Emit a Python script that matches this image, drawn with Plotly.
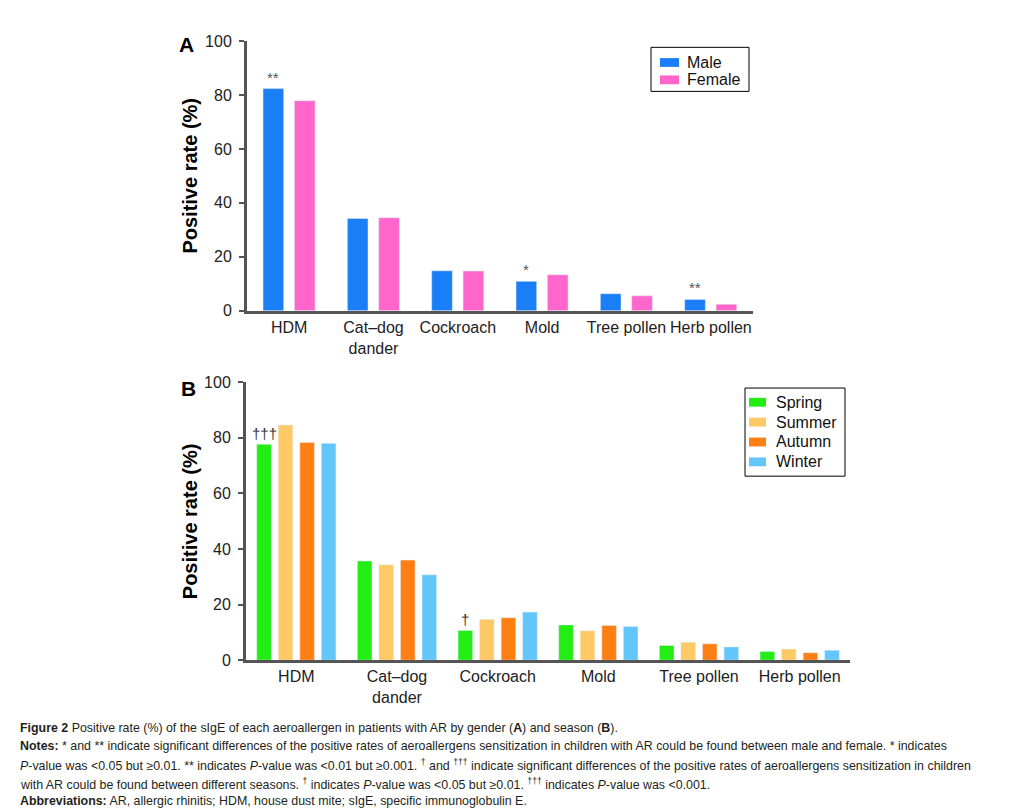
import plotly.graph_objects as go

W, H = 1010, 812

categories = ["HDM", "Cat–dog<br>dander", "Cockroach", "Mold", "Tree pollen", "Herb pollen"]

# Panel A: by gender
male = [82.4, 34.2, 14.8, 10.9, 6.3, 4.2]
female = [77.9, 34.5, 14.7, 13.3, 5.5, 2.4]
male_marks = ["**", "", "", "*", "", "**"]

# Panel B: by season
spring = [77.7, 35.7, 10.7, 12.7, 5.3, 3.1]
summer = [84.6, 34.3, 14.7, 10.6, 6.5, 4.0]
autumn = [78.3, 36.0, 15.3, 12.5, 5.9, 2.7]
winter = [78.0, 30.7, 17.3, 12.1, 4.8, 3.6]
spring_marks = ["†††", "", "†", "", "", ""]

y_ticks = [0, 20, 40, 60, 80, 100]


def px(x):
    return x / W


def py(y):
    return 1 - y / H


FONT = "Liberation Sans, Arial, sans-serif"

gender_names = ["Male", "Female"]
gender_cols = ["#1a7ef7", "#ff66cc"]
gender_vals = [male, female]
gender_offsets = [-0.31, 0.062]

season_names = ["Spring", "Summer", "Autumn", "Winter"]
season_cols = ["#22ee14", "#ffc966", "#ff7f12", "#62c6fa"]
season_vals = [spring, summer, autumn, winter]
season_offsets = [-0.3935, -0.18, 0.0345, 0.2485]

fig = go.Figure()

for name, col, vals, off in zip(gender_names, gender_cols, gender_vals, gender_offsets):
    fig.add_trace(go.Bar(x=categories, y=vals, name=name, marker_color=col,
                         width=0.245, offset=off, xaxis="x", yaxis="y",
                         showlegend=False))

for name, col, vals, off in zip(season_names, season_cols, season_vals, season_offsets):
    fig.add_trace(go.Bar(x=categories, y=vals, name=name, marker_color=col,
                         width=0.145, offset=off, xaxis="x2", yaxis="y2",
                         showlegend=False))

axis_common_x = dict(showline=True, linecolor="#555", linewidth=3, ticks="",
                     showgrid=False, zeroline=False, range=[-0.5, 5.5],
                     tickfont=dict(size=16, color="#222", family=FONT),
                     fixedrange=True)
axis_common_y = dict(showline=True, linecolor="#555", linewidth=3, ticks="outside",
                     ticklen=5, tickwidth=2, tickcolor="#555", range=[0, 100],
                     tickvals=y_ticks, showgrid=False, zeroline=False,
                     tickfont=dict(size=16, color="#222", family=FONT),
                     ticklabelstandoff=4, fixedrange=True)

fig.update_layout(
    width=W, height=H, autosize=False,
    margin=dict(l=0, r=0, t=0, b=0),
    paper_bgcolor="white", plot_bgcolor="white",
    font=dict(family=FONT, color="#222"),
    barmode="overlay",
    xaxis=dict(domain=[px(239), px(745)], anchor="y", **axis_common_x),
    yaxis=dict(domain=[py(301), py(25.7)], anchor="x", **axis_common_y),
    xaxis2=dict(domain=[px(238), px(842)], anchor="y2", **axis_common_x),
    yaxis2=dict(domain=[py(658), py(374)], anchor="x2", **axis_common_y),
    showlegend=False,
)

annotations = []
shapes = []

# significance marks above bars
unitA = (745 - 239) / 6.0
unitB = (842 - 238) / 6.0
for i, m in enumerate(male_marks):
    if m:
        annotations.append(dict(text=m, x=categories[i], y=male[i], xref="x", yref="y",
                                xshift=(gender_offsets[0] + 0.1225) * unitA, yshift=1,
                                xanchor="center", yanchor="bottom", showarrow=False,
                                font=dict(size=15, color="#555", family=FONT)))
for i, m in enumerate(spring_marks):
    if m:
        annotations.append(dict(text=m, x=categories[i], y=spring[i], xref="x2", yref="y2",
                                xshift=(season_offsets[0] + 0.0725) * unitB, yshift=0,
                                xanchor="center", yanchor="bottom", showarrow=False,
                                font=dict(size=15, color="#333", family=FONT)))

# panel letters and axis titles
for t, x, y, s, ang in [("<b>A</b>", 178, 29.5, 21, 0), ("<b>B</b>", 180, 380, 21, 0),
                        ("<b>Positive rate (%)</b>", 182, 163, 20, -90),
                        ("<b>Positive rate (%)</b>", 182, 516, 20, -90)]:
    annotations.append(dict(text=t, x=px(x), y=py(y), xref="paper", yref="paper",
                            showarrow=False, xanchor="center", yanchor="middle",
                            textangle=ang, font=dict(size=s, color="black", family=FONT)))


# legends (box, swatches, labels)
def add_legend(box, names, cols, sw_x, txt_x, y0, dy):
    x0, y_top, x1, y_bot = box
    shapes.append(dict(type="rect", xref="paper", yref="paper",
                       x0=px(x0), x1=px(x1), y0=py(y_bot), y1=py(y_top),
                       line=dict(color="black", width=1), fillcolor="white", layer="above"))
    for k, (n, c) in enumerate(zip(names, cols)):
        yc = y0 + k * dy
        shapes.append(dict(type="rect", xref="paper", yref="paper",
                           x0=px(sw_x[0]), x1=px(sw_x[1]), y0=py(yc + 4.5), y1=py(yc - 4.5),
                           line=dict(width=0), fillcolor=c, layer="above"))
        annotations.append(dict(text=n, x=px(txt_x), y=py(yc), xref="paper", yref="paper",
                                showarrow=False, xanchor="left", yanchor="middle",
                                font=dict(size=16, color="#111", family=FONT)))


add_legend((643, 32, 741, 77), gender_names, gender_cols, (652, 671), 677, 47.5, 17.7)
add_legend((737, 380, 837, 470), season_names, season_cols, (741, 758), 766, 394.5, 20.3)

CAP = "Liberation Sans, Arial, sans-serif"
caption_lines = [
    "<b>Figure 2</b> Positive rate (%) of the sIgE of each aeroallergen in patients with AR by gender (<b>A</b>) and season (<b>B</b>).",
    "<b>Notes:</b> * and ** indicate significant differences of the positive rates of aeroallergens sensitization in children with AR could be found between male and female. * indicates",
    "<i>P</i>-value was &lt;0.05 but ≥0.01. ** indicates <i>P</i>-value was &lt;0.01 but ≥0.001. <sup>†</sup> and <sup>†††</sup> indicate significant differences of the positive rates of aeroallergens sensitization in children",
    "with AR could be found between different seasons. <sup>†</sup> indicates <i>P</i>-value was &lt;0.05 but ≥0.01. <sup>†††</sup> indicates <i>P</i>-value was &lt;0.001.",
    "<b>Abbreviations:</b> AR, allergic rhinitis; HDM, house dust mite; sIgE, specific immunoglobulin E.",
]
cap_y = [727, 746, 765, 784, 802]
for t, yy in zip(caption_lines, cap_y):
    annotations.append(dict(text=t, x=px(10), y=py(yy), xref="paper", yref="paper",
                            xanchor="left", yanchor="middle", showarrow=False,
                            font=dict(size=12.4, color="#231f20", family=CAP)))

fig.update_layout(annotations=annotations, shapes=shapes)

fig.write_html("out.html")
